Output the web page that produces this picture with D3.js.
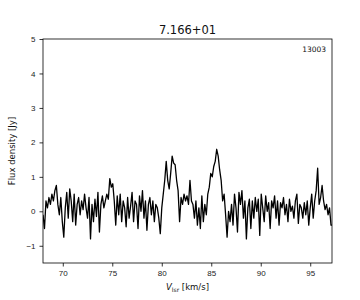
<!DOCTYPE html>
<html>
<head>
<meta charset="utf-8">
<title>spectrum 7.166+01</title>
<script src="https://cdn.jsdelivr.net/npm/d3@7"></script>
<style>
  body { margin: 0; background: #fff; }
  svg { font-family: "DejaVu Sans", sans-serif; }
  .tick text { font-size: 8px; fill: #222; }
  .tick line { stroke: #000; stroke-width: 0.8; }
</style>
</head>
<body>
<svg id="chart" width="360" height="300"></svg>
<script>
// channel grid of the spectrum (km/s)
var velStart = 68.0;
var chanWidth = 0.15;

// flux density per channel (Jy)
var flux = [
  -0.1, -0.5, 0.3, 0.1, 0.4, 0.2, 0.5, 0.3, 0.6, 0.75,
  0.2, -0.1, 0.4, -0.3, -0.75, 0.1, 0.55, -0.2, 0.65, 0.3,
  -0.3, 0.5, -0.4, 0.2, 0.4, -0.1, 0.3, 0.05, 0.5, 0.1,
  -0.2, 0.4, -0.8, 0.2, -0.3, 0.35, -0.15, 0.55, -0.6, 0.2,
  0.45, 0.1, 0.3, 0.5, 0.35, 0.95, 0.7, 0.8, 0.3, -0.4,
  0.45, -0.1, 0.5, -0.3, 0.3, 0.1, -0.45, 0.4, -0.2, 0.15,
  0.55, -0.3, 0.3, 0.2, -0.5, 0.45, 0.0, 0.6, -0.2, 0.3,
  -0.55, 0.2, 0.4, -0.1, 0.3, -0.3, 0.2, 0.1, -0.2, -0.65,
  0.1, 0.5, 0.9, 1.45, 0.9, 0.65, 1.1, 1.6, 1.4, 1.35,
  0.9, 0.6, -0.3, 0.4, 0.2, 0.5, 0.3, 0.45, 0.2, 0.9,
  0.3, 0.2, -0.2, 0.3, -0.4, 0.1, -0.5, 0.45, -0.3, 0.2,
  -0.1, 0.5, 0.7, 1.1, 1.0, 1.3, 1.45, 1.8, 1.6, 1.2,
  0.9, 0.3, 0.5, -0.1, -0.75, 0.0, -0.3, 0.2, -0.4, 0.5,
  0.1, -0.6, 0.55, 0.2, 0.6, -0.2, 0.3, -0.8, 0.1, 0.35,
  -0.5, 0.3, -0.2, 0.4, 0.0, 0.35, -0.7, 0.5, 0.1, -0.3,
  0.45, 0.0, 0.25, -0.5, 0.3, 0.1, 0.45, -0.2, 0.3, -0.4,
  0.25, 0.1, 0.4, -0.1, 0.2, -0.3, 0.35, 0.0, 0.15, -0.2,
  0.3, 0.5, -0.35, 0.2, 0.1, -0.2, 0.25, -0.1, 0.3, -0.4,
  0.1, 0.5, -0.2, 0.3, 0.6, 1.25, 0.2, 0.4, 0.75, 0.3,
  0.05, 0.2, -0.1, 0.1, -0.4, -0.4
];

var xTicks = [70, 75, 80, 85, 90, 95];
var yTicks = [-1, 0, 1, 2, 3, 4, 5];
var title = "7.166+01";
var sourceId = "13003";

var data = flux.map(function (f, i) { return [velStart + i * chanWidth, f]; });

var m = { left: 43, right: 28, top: 39, bottom: 37 };
var W = 360, H = 300;
var svg = d3.select("#chart");

var x = d3.scaleLinear().domain([68, 97.2]).range([m.left, W - m.right]);
var y = d3.scaleLinear().domain([-1.5, 5]).range([H - m.bottom, m.top]);

svg.append("clipPath").attr("id", "clip").append("rect")
  .attr("x", m.left).attr("y", m.top)
  .attr("width", W - m.left - m.right).attr("height", H - m.top - m.bottom);

svg.append("path")
  .datum(data)
  .attr("clip-path", "url(#clip)")
  .attr("fill", "none")
  .attr("stroke", "#000")
  .attr("stroke-width", 1.3)
  .attr("stroke-linejoin", "round")
  .attr("d", d3.line().x(function (d) { return x(d[0]); }).y(function (d) { return y(d[1]); }));

var xAxis = svg.append("g").attr("transform", "translate(0," + (H - m.bottom) + ")")
  .call(d3.axisBottom(x).tickValues(xTicks).tickSize(3.5).tickPadding(4));
var yAxis = svg.append("g").attr("transform", "translate(" + m.left + ",0)")
  .call(d3.axisLeft(y).tickValues(yTicks).tickSize(3.5).tickPadding(4)
    .tickFormat(function (d) { return d < 0 ? "\u2212" + Math.abs(d) : d; }));
xAxis.select(".domain").remove();
yAxis.select(".domain").remove();

svg.append("rect")
  .attr("x", m.left).attr("y", m.top)
  .attr("width", W - m.left - m.right).attr("height", H - m.top - m.bottom)
  .attr("fill", "none").attr("stroke", "#000").attr("stroke-width", 0.8);

svg.append("text")
  .attr("x", (m.left + W - m.right) / 2).attr("y", 34)
  .attr("text-anchor", "middle").attr("font-size", 11.5).attr("fill", "#111")
  .text(title);

svg.append("text")
  .attr("x", W - m.right - 6).attr("y", 52)
  .attr("text-anchor", "end").attr("font-size", 7.5).attr("fill", "#111")
  .text(sourceId);

svg.append("text")
  .attr("transform", "translate(15," + ((m.top + H - m.bottom) / 2) + ") rotate(-90)")
  .attr("text-anchor", "middle").attr("font-size", 8.5).attr("fill", "#111")
  .text("Flux density [Jy]");

var xl = svg.append("text")
  .attr("x", (m.left + W - m.right) / 2).attr("y", 290)
  .attr("text-anchor", "middle").attr("font-size", 8.5).attr("fill", "#111");
xl.append("tspan").attr("font-style", "italic").text("V");
xl.append("tspan").attr("font-size", 6).attr("dy", 1.5).text("lsr");
xl.append("tspan").attr("dy", -1.5).text(" [km/s]");
</script>
</body>
</html>
